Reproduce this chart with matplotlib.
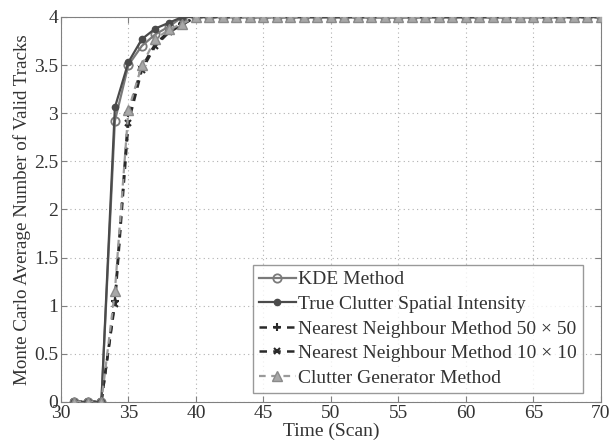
import matplotlib
matplotlib.use('Agg')
import matplotlib.pyplot as plt
import numpy as np

plt.rcParams['font.family'] = ['Liberation Serif', 'DejaVu Serif']

scans = list(range(31, 71))
n_flat = len(scans) - 9

# values (scans 31..39, then flat at 4)
kde = [0, 0, 0, 2.92, 3.50, 3.70, 3.82, 3.90, 4.0] + [4.0] * n_flat
true_ci = [0, 0, 0, 3.06, 3.53, 3.77, 3.88, 3.94, 4.0] + [4.0] * n_flat
nn50 = [0, 0, 0, 1.05, 3.00, 3.48, 3.72, 3.85, 3.93] + [4.0] * n_flat
nn10 = [0, 0, 0, 1.02, 2.90, 3.45, 3.70, 3.84, 3.92] + [4.0] * n_flat
clutter_gen = [0, 0, 0, 1.15, 3.03, 3.50, 3.77, 3.87, 3.93] + [4.0] * n_flat

fig = plt.figure(figsize=(6.15, 4.47), dpi=100)
ax = fig.add_axes([0.099, 0.101, 0.878, 0.861])

ax.plot(scans, kde, color='#7a7a7a', lw=1.6, marker='o', ms=6,
        mfc='none', mec='#7a7a7a', mew=1.3, label='KDE Method', zorder=4)
ax.plot(scans, true_ci, color='#4a4a4a', lw=1.6, marker='o', ms=4.5,
        mfc='#4a4a4a', mec='#4a4a4a', label='True Clutter Spatial Intensity', zorder=5)
ax.plot(scans, nn50, color='#2a2a2a', lw=1.8, ls=(0, (3, 2.5)), marker='+', ms=6,
        mew=1.5, label='Nearest Neighbour Method 50 \u00d7 50', zorder=3)
ax.plot(scans, nn10, color='#2a2a2a', lw=1.8, ls=(0, (3, 2.5)), marker='x', ms=4.5,
        mew=1.5, label='Nearest Neighbour Method 10 \u00d7 10', zorder=3)
ax.plot(scans, clutter_gen, color='#9a9a9a', lw=1.6, ls=(0, (3, 2.5)), marker='^', ms=7,
        mfc='#a8a8a8', mec='#8a8a8a', label='Clutter Generator Method', zorder=6)

ax.set_xlim(30, 70)
ax.set_ylim(0, 4)
ax.set_xticks(np.arange(30, 71, 5))
ax.set_yticks(np.arange(0, 4.01, 0.5))
ax.set_yticklabels(['0', '0.5', '1', '1.5', '2', '2.5', '3', '3.5', '4'])
ax.grid(True, ls=(0, (1, 3)), color='#b0b0b0', lw=0.8)
for s in ax.spines.values():
    s.set_color('#808080')
ax.tick_params(direction='in', colors='#808080', labelcolor='#333333',
               labelsize=14, top=True, right=True, length=4, pad=2)
ax.set_xlabel('Time (Scan)', fontsize=14, color='#333333', labelpad=1)
ax.set_ylabel('Monte Carlo Average Number of Valid Tracks', fontsize=13.7,
              color='#333333', labelpad=2)

leg = ax.legend(loc='lower right', bbox_to_anchor=(0.967, 0.024), fontsize=14,
                frameon=True, fancybox=False, edgecolor='#808080',
                handlelength=1.9, handletextpad=0.15, borderpad=0.3,
                labelspacing=0.36, borderaxespad=0)
leg.get_frame().set_linewidth(1.0)
for t in leg.get_texts():
    t.set_color('#333333')

fig.savefig('out.png', dpi=100)
